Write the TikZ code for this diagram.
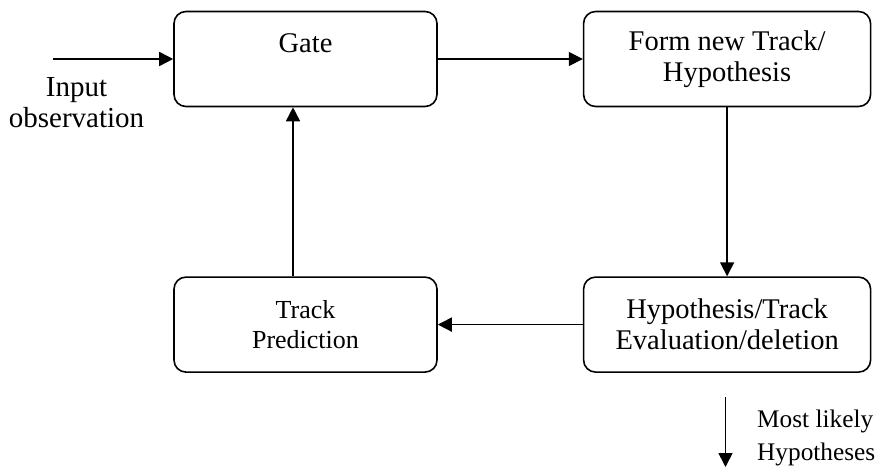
\documentclass[tikz,border=0pt]{standalone}
\usepackage{fontspec}
\setmainfont{Liberation Serif}
\usetikzlibrary{arrows.meta,positioning}

\begin{document}
\begin{tikzpicture}[
    x=1pt, y=-1pt,
    node distance=169pt and 145pt,
    box/.style={
      rectangle, rounded corners=12pt,
      draw=black, line width=1.6pt, fill=white,
      align=center, inner sep=0pt,
      font=\fontsize{28.5}{31}\selectfont,
      minimum height=95pt
    },
    arr/.style={-{Triangle[length=14pt,width=14pt]}, line width=1.6pt},
    lbl/.style={inner sep=0pt, font=\fontsize{29}{31}\selectfont},
  ]
  \useasboundingbox (0,0) rectangle (881,468);

  % Top row
  \node[box, minimum width=263pt, text height=20pt, text depth=33pt] (gate) at (305.5,59) {Gate};
  \node[box, minimum width=287pt, right=of gate] (form) {Form new Track/\\Hypothesis};

  % Bottom row
  \node[box, minimum width=287pt, below=of form] (hyp) {Hypothesis/Track\\Evaluation/deletion};
  \node[box, minimum width=263pt, below=of gate, font=\fontsize{26}{30}\selectfont] (pred) {Track\\Prediction};

  % Input and output
  \coordinate (obs) at (53,59);
  \node[lbl, align=center] (obslbl) at (76.5,103) {Input\\observation};
  \coordinate (outa) at (725.5,397);
  \coordinate (outb) at (725.5,467);
  \node[lbl, align=left, anchor=north west, font=\fontsize{25.3}{33}\selectfont] (outlbl) at (757,409.7) {Most likely\\Hypotheses};

  % Edges
  \draw[arr] (obs)  -- (gate);
  \draw[arr] (gate) -- (form);
  \draw[arr] (form) -- (hyp);
  \draw[arr] (hyp)  -- (pred);
  \draw[arr] ([xshift=-12.5pt]pred.north) -- ([xshift=-12.5pt]gate.south);
  \draw[arr] (outa) -- (outb);
\end{tikzpicture}
\end{document}
